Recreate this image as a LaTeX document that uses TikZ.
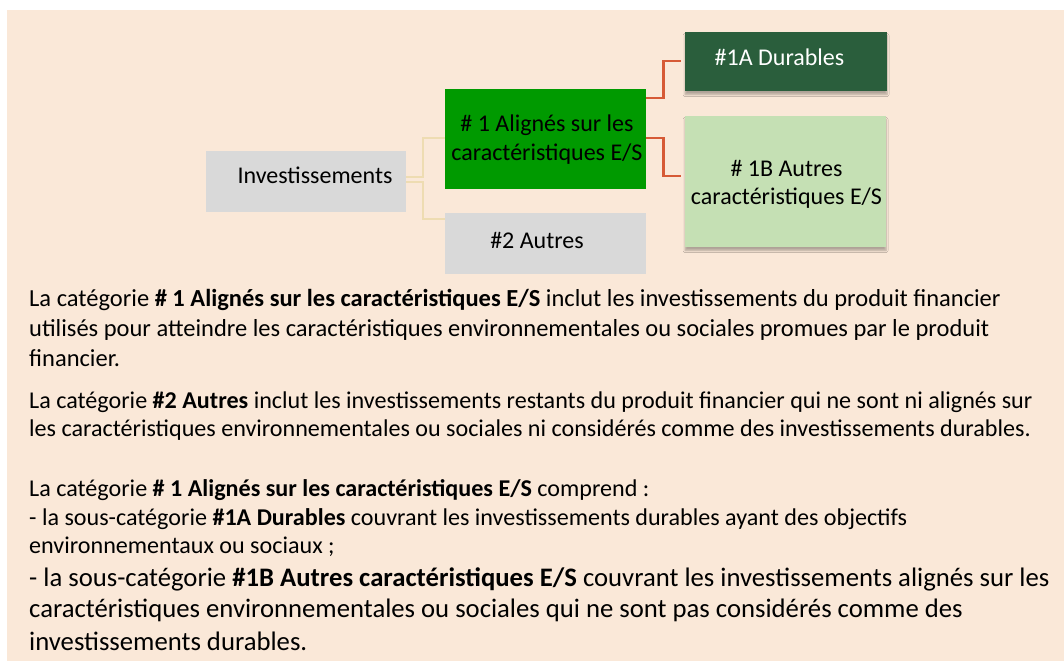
\documentclass[tikz,border=0pt]{standalone}
\usepackage{fontspec}
\setmainfont{Carlito}
\usetikzlibrary{shadows.blur}
\definecolor{bgpeach}{HTML}{FAE8D8}
\definecolor{boxgrey}{HTML}{D9D9D9}
\definecolor{brightgreen}{HTML}{009A00}
\definecolor{darkgreen}{HTML}{2A5E3C}
\definecolor{lightgreen}{HTML}{C5E0B4}
\definecolor{tanline}{HTML}{EEDCB2}
\definecolor{redline}{HTML}{D65A36}
\tikzset{
  box/.style={inner sep=0pt, outer sep=0pt, draw=none},
  shadowed/.style={blur shadow={shadow xshift=0pt, shadow yshift=-3.5pt, shadow blur steps=5, shadow opacity=30, shadow blur radius=2pt}},
  boxtext/.style={inner sep=0pt, anchor=base, font=\fontsize{24}{29}\selectfont},
  paraone/.style={inner sep=0pt, anchor=base west, font=\fontsize{24.5}{30}\selectfont},
  bigline/.style={inner sep=0pt, anchor=base west, font=\fontsize{26.7}{32}\selectfont},
  smallline/.style={inner sep=0pt, anchor=base west, font=\fontsize{24.1}{28}\selectfont},
  tanconn/.style={draw=tanline, line width=2pt},
  redconn/.style={draw=redline, line width=2.5pt},
}
\begin{document}
\begin{tikzpicture}[x=1pt,y=-1pt]
\useasboundingbox (0,0) rectangle (1064,661);
\fill[white] (0,0) rectangle (1064,661);
\fill[bgpeach] (7,10) rectangle (1064,661);

% boxes
\node[box, fill=boxgrey, minimum width=200pt, minimum height=61pt] (inv) at (306,181.5) {};
\node[box, fill=brightgreen, minimum width=201pt, minimum height=100pt] (g1) at (545.5,139) {};
\node[box, fill=boxgrey, minimum width=201pt, minimum height=61pt] (a2) at (545.5,243.5) {};
\node[box, fill=darkgreen, shadowed, minimum width=202pt, minimum height=59pt] (d1) at (786,61.5) {};
\node[box, fill=lightgreen, shadowed, minimum width=201pt, minimum height=131pt] (b1) at (785.5,181.5) {};

% box texts
\node[boxtext] (tinv) at (315,183) {Investissements};
\node[boxtext] (tg1a) at (547,131) {\# 1 Alignés sur les};
\node[boxtext] (tg1b) at (547,160) {caractéristiques E/S};
\node[boxtext] (ta2) at (537,248) {\#2 Autres};
\node[boxtext, text=white] (td1) at (779.5,65.7) {\#1A Durables};
\node[boxtext] (tb1a) at (786.5,176.7) {\# 1B Autres};
\node[boxtext] (tb1b) at (786.5,204.3) {caractéristiques E/S};

% connectors
\draw[tanconn] ([yshift=4.5pt]inv.east) -- ++(17,0) |- ([yshift=0.7pt]g1.west);
\draw[tanconn] ([yshift=-0.5pt]inv.east) -- ++(17,0) |- ([yshift=24.5pt]a2.west);
\draw[redconn, shorten >=4pt] ([yshift=41pt]g1.east) -- ++(17.5,0) |- ([yshift=0.5pt]d1.west);
\draw[redconn, shorten >=4pt] ([yshift=1pt]g1.east) -- ++(17.5,0) |- ([yshift=5.5pt]b1.west);

% paragraph 1
\node[paraone] (p1a) at (29,306.7) {La catégorie \textbf{\# 1 Alignés sur les caractéristiques E/S} inclut les investissements du produit financier};
\node[paraone] (p1b) at (29,336.7) {utilisés pour atteindre les caractéristiques environnementales ou sociales promues par le produit};
\node[paraone] (p1c) at (29,366) {financier.};

% paragraph 2
\node[smallline] (p2a) at (29,408.3) {La catégorie \textbf{\#2 Autres} inclut les investissements restants du produit financier qui ne sont ni alignés sur};
\node[smallline] (p2b) at (29,436.7) {les caractéristiques environnementales ou sociales ni considérés comme des investissements durables.};

% paragraph 3
\node[smallline] (p3a) at (29,496.7) {La catégorie \textbf{\# 1 Alignés sur les caractéristiques E/S} comprend :};
\node[smallline] (p3b) at (29,525) {- la sous-catégorie \textbf{\#1A Durables} couvrant les investissements durables ayant des objectifs};
\node[smallline] (p3c) at (29,553.3) {environnementaux ou sociaux ;};
\node[bigline] (p3d) at (29,586.7) {- la sous-catégorie \textbf{\#1B Autres caractéristiques E/S} couvrant les investissements alignés sur les};
\node[bigline] (p3e) at (29,617.5) {caractéristiques environnementales ou sociales qui ne sont pas considérés comme des};
\node[bigline] (p3f) at (29,650) {investissements durables.};
\end{tikzpicture}
\end{document}
